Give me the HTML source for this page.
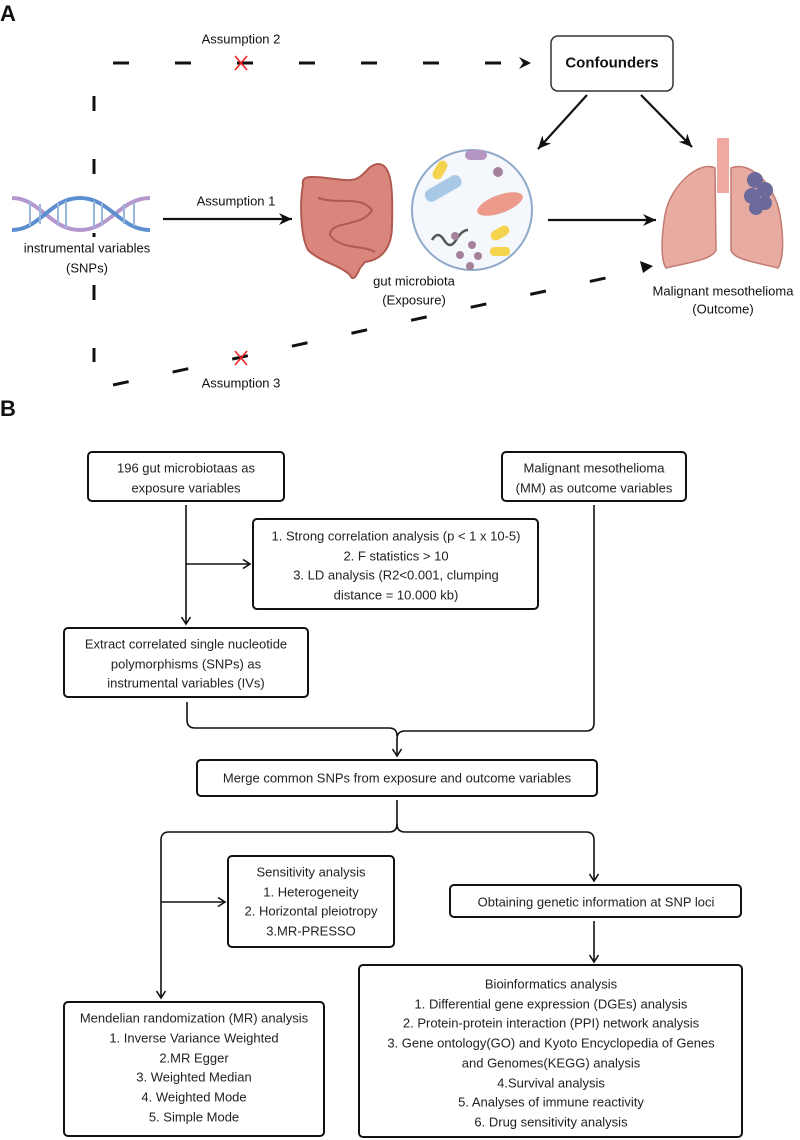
<!DOCTYPE html>
<html><head><meta charset="utf-8"><style>
html,body{margin:0;padding:0;background:#fff}
svg{display:block}
.t{font-family:"Liberation Sans",sans-serif;font-size:13px;fill:#222;text-anchor:middle;dominant-baseline:central}
.a{font-family:"Liberation Sans",sans-serif;font-size:13px;fill:#111;text-anchor:middle;dominant-baseline:central}
.b{fill:#fff;stroke:#111;stroke-width:2}
.l{fill:none;stroke:#111;stroke-width:1.6}
</style></head><body>
<svg width="800" height="1140" viewBox="0 0 800 1140" xmlns="http://www.w3.org/2000/svg">
<defs>
<marker id="ar" markerWidth="12" markerHeight="12" refX="9" refY="6" orient="auto" markerUnits="userSpaceOnUse"><path d="M2,1.5 L9,6 L2,10.5" fill="none" stroke="#111" stroke-width="1.6"/></marker>
<marker id="af" markerWidth="16" markerHeight="16" refX="13" refY="8" orient="auto" markerUnits="userSpaceOnUse"><path d="M0,2 L13,8 L0,14 L4,8 Z" fill="#111"/></marker>
</defs>
<!-- Part A -->
<text x="0" y="21" font-family="Liberation Sans" font-weight="bold" font-size="22" fill="#111">A</text>
<text x="241" y="39" class="a">Assumption 2</text>
<line x1="113" y1="63" x2="512" y2="63" stroke="#111" stroke-width="3" stroke-dasharray="16,46"/>
<path d="M519,57 L531,63 L519,69 L523,63Z" fill="#111"/>
<path d="M235,56 L247,70 M247,56 L235,70" stroke="#e22" stroke-width="1.6"/>
<rect x="551" y="36" width="122" height="55" rx="7" fill="#fff" stroke="#333" stroke-width="1.5"/>
<text x="612" y="63" font-family="Liberation Sans" font-weight="bold" font-size="15" fill="#111" text-anchor="middle" dominant-baseline="central">Confounders</text>
<line x1="94" y1="96" x2="94" y2="362" stroke="#111" stroke-width="3" stroke-dasharray="15,48"/>
<line x1="113" y1="385" x2="638" y2="271" stroke="#111" stroke-width="3" stroke-dasharray="16,45"/>
<path d="M653,266 L640,261 L643,273Z" fill="#111"/>
<path d="M235,351 L247,365 M247,351 L235,365" stroke="#e22" stroke-width="1.6"/>
<text x="241" y="383" class="a">Assumption 3</text>
<line x1="587" y1="95" x2="538" y2="149" stroke="#111" stroke-width="2.2" marker-end="url(#af)"/>
<line x1="641" y1="95" x2="692" y2="147" stroke="#111" stroke-width="2.2" marker-end="url(#af)"/>
<!-- DNA -->
<rect x="10" y="195" width="148" height="38" fill="#fff"/>
<g stroke-width="4" fill="none">
<path d="M12,198 C40,198 50,230 80,230 C110,230 120,198 150,198" stroke="#b497cc"/>
<path d="M12,230 C40,230 50,198 80,198 C110,198 120,230 150,230" stroke="#5b8fd0"/>
</g>
<g stroke="#9ab6dc" stroke-width="2">
<line x1="30" y1="202" x2="30" y2="226"/><line x1="40" y1="204" x2="40" y2="224"/><line x1="58" y1="203" x2="58" y2="226"/><line x1="66" y1="201" x2="66" y2="228"/><line x1="94" y1="201" x2="94" y2="228"/><line x1="102" y1="203" x2="102" y2="226"/><line x1="124" y1="204" x2="124" y2="224"/><line x1="134" y1="202" x2="134" y2="226"/>
</g>
<text x="87" y="248" class="a">instrumental variables</text>
<text x="87" y="268" class="a">(SNPs)</text>
<text x="236" y="201" class="a">Assumption 1</text>
<line x1="163" y1="219" x2="292" y2="219" stroke="#111" stroke-width="2.2" marker-end="url(#af)"/>
<!-- intestine -->
<path d="M303,185 C300,172 320,178 345,180 C365,182 365,165 378,164 C392,164 393,190 392,225 C392,250 380,260 365,262 L360,268 C355,280 352,280 350,275 C340,265 320,262 308,250 C300,235 300,200 303,185 Z" fill="#d9867c" stroke="#b25a52" stroke-width="2"/>
<path d="M318,198 C340,205 360,195 372,210 C362,228 330,220 330,235 C340,250 365,245 375,252" fill="none" stroke="#b25a52" stroke-width="2"/>
<!-- circle -->
<circle cx="472" cy="210" r="60" fill="#f4f7fb" stroke="#8fa9c9" stroke-width="2"/>
<rect x="435" y="160" width="10" height="20" rx="5" fill="#f3d44c" transform="rotate(30 440 170)"/>
<rect x="465" y="150" width="22" height="10" rx="5" fill="#b596c2"/>
<rect x="423" y="182" width="40" height="13" rx="6" fill="#a8c8e6" transform="rotate(-30 443 188)"/>
<ellipse cx="500" cy="204" rx="24" ry="9" fill="#ec9a8a" transform="rotate(-20 500 204)"/>
<path d="M432,240 q6,-10 12,0 t12,0 t12,-10" fill="none" stroke="#555" stroke-width="2.5"/>
<rect x="490" y="228" width="20" height="10" rx="5" fill="#f3d44c" transform="rotate(-30 500 233)"/>
<rect x="490" y="247" width="20" height="9" rx="4" fill="#f3d44c"/>
<g fill="#a5809a"><circle cx="498" cy="172" r="5"/><circle cx="455" cy="236" r="4"/><circle cx="472" cy="245" r="4"/><circle cx="478" cy="256" r="4"/><circle cx="460" cy="255" r="4"/><circle cx="470" cy="266" r="4"/></g>
<text x="414" y="281" class="a">gut microbiota</text>
<text x="414" y="300" class="a">(Exposure)</text>
<line x1="548" y1="220" x2="656" y2="220" stroke="#111" stroke-width="2.2" marker-end="url(#af)"/>
<!-- lungs -->
<rect x="717" y="138" width="12" height="55" fill="#f0a8a0"/>
<path d="M715,168 C700,160 670,185 665,215 C660,245 662,262 666,268 C690,262 712,260 716,250 Z" fill="#e8aba2" stroke="#c27a72" stroke-width="1.5"/>
<path d="M731,168 C750,160 775,185 780,215 C785,245 782,262 778,268 C755,262 734,260 731,250 Z" fill="#e8aba2" stroke="#c27a72" stroke-width="1.5"/>
<g fill="#6b6a9a"><circle cx="755" cy="180" r="8"/><circle cx="765" cy="190" r="8"/><circle cx="752" cy="196" r="8"/><circle cx="765" cy="203" r="7"/><circle cx="756" cy="208" r="7"/></g>
<text x="723" y="291" class="a">Malignant mesothelioma</text>
<text x="723" y="309" class="a">(Outcome)</text>
<!-- Part B -->
<text x="0" y="416" font-family="Liberation Sans" font-weight="bold" font-size="22" fill="#111">B</text>
<rect class="b" x="88" y="452" width="196" height="49" rx="4"/>
<text class="t" x="186" y="468">196 gut microbiotaas as</text>
<text class="t" x="186" y="488">exposure variables</text>
<rect class="b" x="502" y="452" width="184" height="49" rx="4"/>
<text class="t" x="594" y="468">Malignant mesothelioma</text>
<text class="t" x="594" y="488">(MM) as outcome variables</text>
<rect class="b" x="253" y="519" width="285" height="90" rx="4"/>
<text class="t" x="396" y="536">1. Strong correlation analysis (p &lt; 1 x 10-5)</text>
<text class="t" x="396" y="556">2. F statistics &gt; 10</text>
<text class="t" x="396" y="575">3. LD analysis (R2&lt;0.001, clumping</text>
<text class="t" x="396" y="595">distance = 10.000 kb)</text>
<path class="l" d="M186,505 V624" marker-end="url(#ar)"/>
<path class="l" d="M186,564 H250" marker-end="url(#ar)"/>
<rect class="b" x="64" y="628" width="244" height="69" rx="4"/>
<text class="t" x="186" y="644">Extract correlated single nucleotide</text>
<text class="t" x="186" y="664">polymorphisms (SNPs) as</text>
<text class="t" x="186" y="683">instrumental variables (IVs)</text>
<path class="l" d="M187,702 V720 Q187,728 195,728 H389 Q397,728 397,736"/>
<path class="l" d="M594,505 V723 Q594,731 586,731 H405 Q397,731 397,739 V756" marker-end="url(#ar)"/>
<rect class="b" x="197" y="760" width="400" height="36" rx="4"/>
<text class="t" x="397" y="778">Merge common SNPs from exposure and outcome variables</text>
<path class="l" d="M397,800 V824 Q397,832 389,832 H169 Q161,832 161,840 V998" marker-end="url(#ar)"/>
<path class="l" d="M397,824 Q397,832 405,832 H586 Q594,832 594,840 V881" marker-end="url(#ar)"/>
<path class="l" d="M161,902 H225" marker-end="url(#ar)"/>
<rect class="b" x="228" y="856" width="166" height="91" rx="4"/>
<text class="t" x="311" y="872">Sensitivity analysis</text>
<text class="t" x="311" y="892">1. Heterogeneity</text>
<text class="t" x="311" y="911">2. Horizontal pleiotropy</text>
<text class="t" x="311" y="931">3.MR-PRESSO</text>
<rect class="b" x="450" y="885" width="291" height="32" rx="4"/>
<text class="t" x="596" y="902">Obtaining genetic information at SNP loci</text>
<path class="l" d="M594,921 V962" marker-end="url(#ar)"/>
<rect class="b" x="359" y="965" width="383" height="172" rx="4"/>
<text class="t" x="551" y="984">Bioinformatics analysis</text>
<text class="t" x="551" y="1004">1. Differential gene expression (DGEs) analysis</text>
<text class="t" x="551" y="1023">2. Protein-protein interaction (PPI) network analysis</text>
<text class="t" x="551" y="1043">3. Gene ontology(GO) and Kyoto Encyclopedia of Genes</text>
<text class="t" x="551" y="1063">and Genomes(KEGG)  analysis</text>
<text class="t" x="551" y="1083">4.Survival analysis</text>
<text class="t" x="551" y="1102">5. Analyses of immune reactivity</text>
<text class="t" x="551" y="1122">6. Drug sensitivity analysis</text>
<rect class="b" x="64" y="1002" width="260" height="134" rx="4"/>
<text class="t" x="194" y="1018">Mendelian randomization (MR) analysis</text>
<text class="t" x="194" y="1038">1. Inverse Variance Weighted</text>
<text class="t" x="194" y="1058">2.MR Egger</text>
<text class="t" x="194" y="1077">3. Weighted Median</text>
<text class="t" x="194" y="1097">4. Weighted Mode</text>
<text class="t" x="194" y="1117">5. Simple Mode</text>
</svg>
</body></html>
